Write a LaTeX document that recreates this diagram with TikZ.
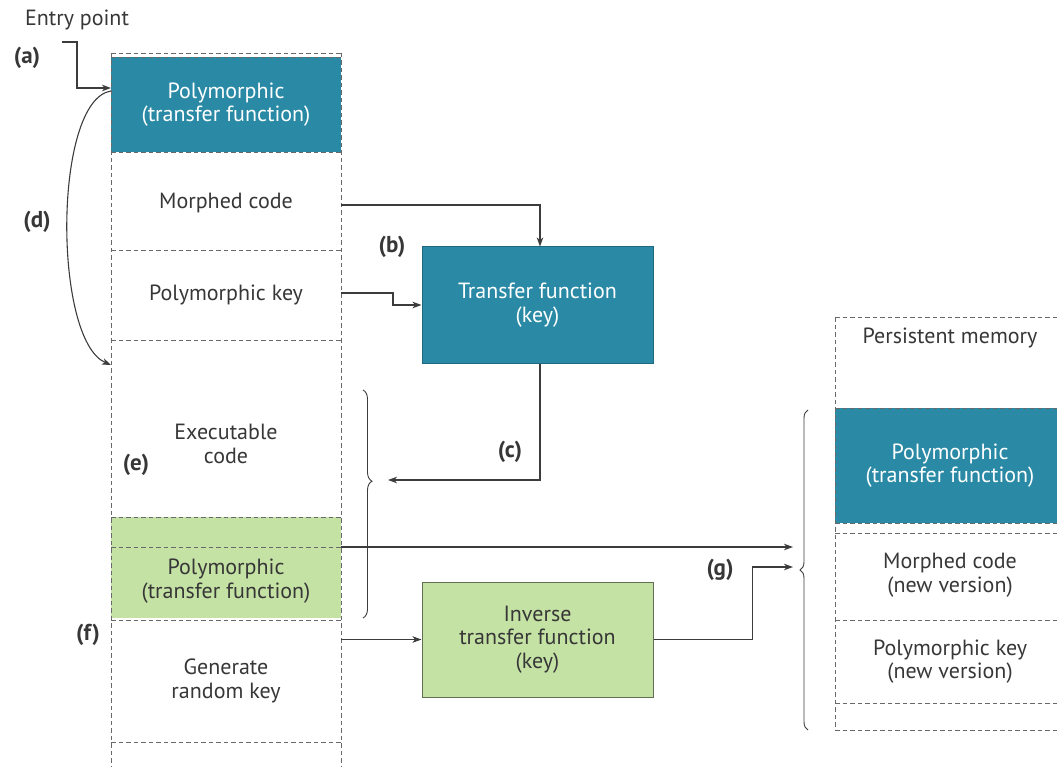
\documentclass[tikz,border=0pt]{standalone}
\usepackage{fontspec}
\setmainfont{PT Sans}
\usetikzlibrary{arrows.meta,decorations.pathreplacing}
\definecolor{polyteal}{RGB}{42,138,166}
\definecolor{polytealdark}{RGB}{30,105,128}
\definecolor{polygreen}{RGB}{197,226,165}
\definecolor{polygreendark}{RGB}{95,110,85}
\definecolor{txt}{RGB}{55,55,55}
\definecolor{wire}{RGB}{60,60,60}
\definecolor{dashgray}{RGB}{105,105,105}
\begin{document}
\begin{tikzpicture}[x=1pt,y=-1pt,
  >={Stealth[length=9pt,width=6.5pt,inset=2.5pt]},
  every node/.style={font=\fontsize{22}{23.5}\selectfont, text=txt, align=center},
  seg/.style={minimum width=230pt, inner sep=0pt, outer sep=0pt},
  tealseg/.style={seg, fill=polyteal, text=white},
  greenseg/.style={seg, fill=polygreen},
  frame/.style={draw=dashgray, line width=0.9pt, dash pattern=on 4.5pt off 3pt},
  funcbox/.style={minimum width=231pt, minimum height=116pt, inner sep=0pt, line width=1pt},
  conn/.style={draw=wire, line width=1.1pt},
  tag/.style={font=\bfseries\fontsize{23}{24}\selectfont, text=txt},
  brc/.style={draw=wire, line width=0.9pt, decorate}]
\useasboundingbox (0,0) rectangle (1057,767);

% ---- left column: the running program ----
\node[tealseg, minimum height=95pt] (lpoly) at (226,104.5) {Polymorphic\\(transfer function)};
\node[seg, minimum height=98pt] (lmorph) at (226,203) {Morphed code};
\node[seg, minimum height=90pt] (lkey) at (226,295) {Polymorphic key};
\node[seg, minimum height=177pt] (lexec) at (226,428.5) {};
\node (lexectxt) at (226,444) {Executable\\code};
\node[greenseg, minimum height=30pt] (lgtop) at (226,532) {};
\node[greenseg, minimum height=73pt] (lgpoly) at (226,581) {Polymorphic\\(transfer function)};
\node[seg, minimum height=122pt] (lgen) at (226,681) {Generate\\random key};

\draw[frame] (111,53) -- (111,767) (341,53) -- (341,767);
\foreach \yy in {53,57,152,250,340,517,547,620,742}
  \draw[frame] (111,\yy) -- (341,\yy);

% ---- right column: persistent memory ----
\node[seg, minimum height=91pt] (rpers) at (950,362.5) {};
\node (rperstxt) at (950,338) {Persistent memory};
\node[tealseg, minimum height=115pt] (rpoly) at (950,465.5) {Polymorphic\\(transfer function)};
\node[seg, minimum height=87pt] (rmorph) at (950,575) {Morphed code\\(new version)};
\node[seg, minimum height=83pt] (rkey) at (950,661.5) {Polymorphic key\\(new version)};

\draw[frame] (835,317) -- (835,730) (1065,317) -- (1065,730);
\foreach \yy in {317,408,523,533,620,703,730}
  \draw[frame] (835,\yy) -- (1065,\yy);

% ---- transfer functions ----
\node[funcbox, fill=polyteal, draw=polytealdark, text=white] (tf) at (537.5,305) {Transfer function\\(key)};
\node[funcbox, minimum height=115pt, fill=polygreen, draw=polygreendark] (inv) at (537.5,639.5) {Inverse\\transfer function\\(key)};

% ---- braces ----
\draw[brc, decoration={brace, amplitude=9pt, aspect=0.4}] (363,390) -- (363,618);
\draw[brc, decoration={brace, amplitude=8pt, aspect=0.5}] (808,730) -- (808,410);

% ---- connectors ----
\node (entry) at (77,20) {Entry point};
\coordinate (entrystart) at (62,42);
\coordinate (entryhit) at ([yshift=16.5pt]lpoly.west);
\draw[conn, ->] (entrystart) -- ++(15,0) |- (entryhit);
\coordinate (exechit) at ([yshift=-25pt]lexec.north west);
\draw[conn, ->] ([yshift=-3pt]entryhit) .. controls (53,100) and (53,340) .. (exechit);

\draw[conn, ->] ([yshift=-2pt]lmorph.east) -| ([xshift=2.5pt]tf.north);
\draw[conn, ->] ([yshift=2pt]lkey.east) -- ++(52,0) |- (tf.west);
\coordinate (exectip) at (388,480);
\draw[conn, ->] ([xshift=2.5pt]tf.south) |- (exectip);

\coordinate (persin1) at (793,547);
\coordinate (persin2) at (793,567);
\draw[conn, ->] (lgtop.south east) -- (persin1);
\draw[conn, ->] (lgen.east |- inv.west) -- (inv.west);
\draw[conn, ->] (inv.east) -- ++(99,0) |- (persin2);

% ---- step labels ----
\node[tag] (ta) at (27,58) {(a)};
\node[tag] (tb) at (392,247) {(b)};
\node[tag] (tc) at (510,452) {(c)};
\node[tag] (td) at (37,222) {(d)};
\node[tag] (te) at (136,465) {(e)};
\node[tag] (tf2) at (88,635) {(f)};
\node[tag] (tg) at (720,570) {(g)};
\end{tikzpicture}
\end{document}
